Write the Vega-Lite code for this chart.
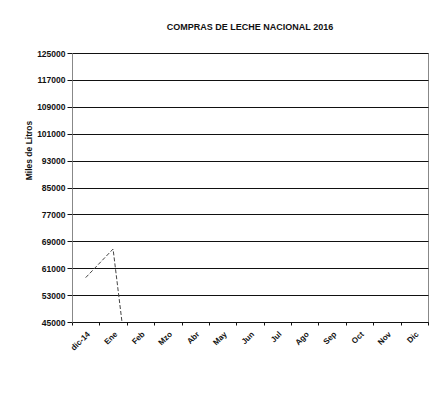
{
  "$schema": "https://vega.github.io/schema/vega-lite/v6.json",
  "width": 356,
  "height": 269,
  "autosize": {"type": "none"},
  "padding": {"left": 72, "top": 53, "right": 6, "bottom": 85},
  "background": "white",
  "title": {
    "text": "COMPRAS DE LECHE NACIONAL 2016",
    "font": "Liberation Sans",
    "fontSize": 9,
    "fontWeight": "bold",
    "color": "#111",
    "anchor": "middle",
    "offset": 17
  },
  "data": {
    "values": [
      {"mes": "dic-14", "litros": 58200},
      {"mes": "Ene", "litros": 66700},
      {"mes": "Feb", "litros": 0},
      {"mes": "Mzo", "litros": 0},
      {"mes": "Abr", "litros": 0},
      {"mes": "May", "litros": 0},
      {"mes": "Jun", "litros": 0},
      {"mes": "Jul", "litros": 0},
      {"mes": "Ago", "litros": 0},
      {"mes": "Sep", "litros": 0},
      {"mes": "Oct", "litros": 0},
      {"mes": "Nov", "litros": 0},
      {"mes": "Dic", "litros": 0}
    ]
  },
  "mark": {"type": "line", "clip": true, "color": "#444", "strokeWidth": 1, "strokeDash": [4, 2]},
  "encoding": {
    "x": {
      "field": "mes",
      "type": "nominal",
      "sort": null,
      "scale": {"type": "band", "paddingInner": 0, "paddingOuter": 0},
      "axis": {
        "title": null,
        "labelAngle": -45,
        "labelFont": "Liberation Sans",
        "labelFontSize": 8,
        "labelFontWeight": "bold",
        "labelColor": "#111",
        "tickBand": "extent",
        "tickColor": "#111",
        "tickSize": 3,
        "domainColor": "#111",
        "labelPadding": 5
      }
    },
    "y": {
      "field": "litros",
      "type": "quantitative",
      "scale": {"domain": [45000, 125000], "nice": false, "zero": false},
      "axis": {
        "title": "Miles de Litros",
        "titleFont": "Liberation Sans",
        "titleFontSize": 8.5,
        "titleFontWeight": "bold",
        "titleColor": "#111",
        "titlePadding": 3,
        "titleY": 97,
        "values": [45000, 53000, 61000, 69000, 77000, 85000, 93000, 101000, 109000, 117000, 125000],
        "format": "d",
        "labelFont": "Liberation Sans",
        "labelFontSize": 8.5,
        "labelFontWeight": "bold",
        "labelColor": "#111",
        "grid": true,
        "gridColor": "#111",
        "gridWidth": 1,
        "tickColor": "#111",
        "tickSize": 5,
        "domainColor": "#888",
        "domainDash": [1, 1]
      }
    }
  },
  "config": {
    "view": {"stroke": "#888", "strokeWidth": 1}
  }
}
